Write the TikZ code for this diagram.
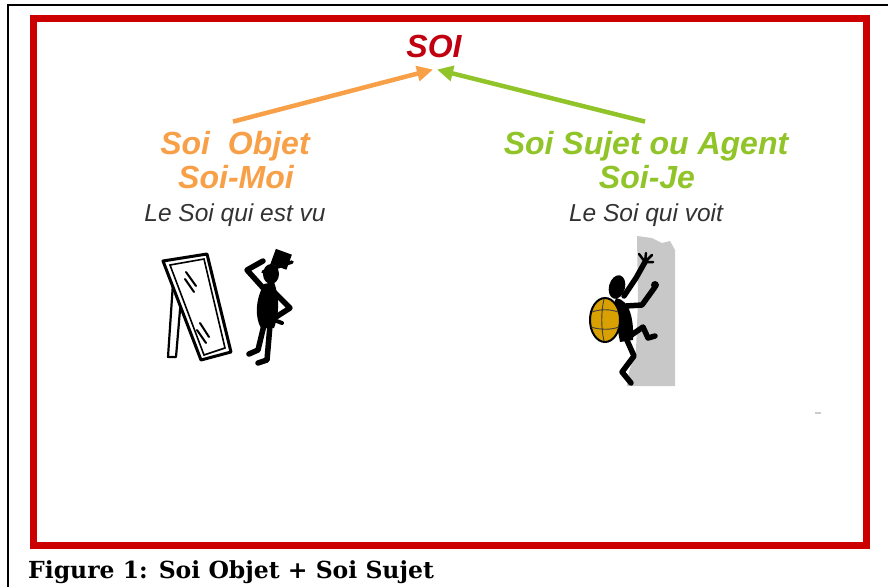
\documentclass[tikz,border=0pt]{standalone}
\usepackage{fontspec}
\setsansfont{Liberation Sans}
\newfontfamily\captionfont{DejaVu Serif}
\usepackage{tikz}
\usetikzlibrary{
    positioning,
    arrows.meta
}
\definecolor{soiRed}{RGB}{192, 0, 16}
\definecolor{frameRed}{RGB}{204, 0, 0}
\definecolor{objOrange}{RGB}{248, 160, 72}
\definecolor{sujGreen}{RGB}{144, 196, 40}
\definecolor{textGray}{RGB}{50, 50, 50}
\definecolor{wallGray}{RGB}{200, 200, 200}
\definecolor{packGold}{RGB}{216, 160, 0}

\begin{document}
\begin{tikzpicture}[x=1pt, y=-1pt, >={Triangle[length=16pt, width=15pt]},
        title/.style={font=\sffamily\bfseries\itshape\fontsize{32}{36}\selectfont, inner sep=1pt, anchor=base},
        sub/.style={font=\sffamily\itshape\fontsize{24.5}{28}\selectfont, text=textGray, inner sep=1pt, anchor=base},
        link/.style={->, line width=4.5pt},
        limb/.style={line width=5.5pt, line cap=round, line join=round}]
        \useasboundingbox (0,0) rectangle (888,587);
        % Outer frame
        \draw[line width=2pt] (888,5) -- (8,5) -- (8,587);
        \draw[line width=7pt, frameRed] (33,18) rectangle (866,545);
        \draw[line width=1.5pt, black!20] (815,413) -- (821,413);

        % Titles
        \node[title, soiRed] (soi) at (434,57) {SOI};
        \node[title, objOrange] (objet) at (235,154) {Soi\ \ Objet};
        \node[title, objOrange] (moi) at (236,188) {Soi-Moi};
        \node[sub] (vu) at (235,221) {Le Soi qui est vu};
        \node[title, sujGreen] (sujet) at (646,154) {Soi Sujet ou Agent};
        \node[title, sujGreen] (je) at (647,188) {Soi-Je};
        \node[sub] (voit) at (646,221) {Le Soi qui voit};

        % Arrows
        \coordinate[below=11pt of soi.south, xshift=-1pt] (tipL);
        \coordinate[below=11pt of soi.south, xshift=3pt] (tipR);
        \coordinate[above=8pt of objet.north, xshift=-2pt] (footL);
        \coordinate[above=8pt of sujet.north, xshift=-1pt] (footR);
        \draw[link, objOrange] (footL) -- (tipL);
        \draw[link, sujGreen] (footR) -- (tipR);

        % Mirror
        \draw[line width=2.2pt, line join=round] (173,283) -- (168,357) -- (176,357) -- (181,298);
        \filldraw[fill=white, line width=3pt, line join=round] (163,261) -- (207,254) -- (231,352) -- (201,360) -- cycle;
        \draw[line width=1.6pt] (170,265) -- (204,259) -- (225,348) -- (204,355) -- cycle;
        \draw[line width=2pt, line cap=round] (186,272) -- (196,286) (185,279) -- (194,292)
            (200,323) -- (209,337) (197,330) -- (206,343);

        % Man looking at himself
        \fill (271,274) ellipse (8 and 10);
        \fill[rotate around={-20:(280,261)}] (272,251) rectangle (289,267);
        \draw[line width=3.5pt, line cap=round] (263,272) -- (292,262);
        \fill (264,284) .. controls (255,300) and (255,318) .. (261,328)
            -- (274,328) .. controls (280,312) and (279,296) .. (274,282) -- cycle;
        \draw[limb] (265,290) -- (247,270) -- (263,261);
        \draw[limb] (273,291) -- (290,308) -- (276,317);
        \draw[line width=4pt, line cap=round] (274,320) -- (282,323);
        \draw[limb] (264,325) -- (258,350) -- (249,354);
        \draw[limb] (270,325) -- (267,360) -- (258,363);

        % Climber on the wall
        \fill[wallGray] (637,236) -- (652,238) -- (662,243) -- (670,241) -- (675,250) -- (675,386)
            -- (627,386) -- (629,372) -- (636,350) -- (638,300) -- cycle;
        \fill[rotate around={-15:(617,287)}] (617,287) ellipse (8 and 12);
        \draw[limb] (624,296) -- (636,278) -- (645,262);
        \draw[line width=2.5pt, line cap=round] (645,262) -- (639,254) (645,262) -- (646,253)
            (645,262) -- (652,255) (645,262) -- (653,262);
        \draw[limb] (626,306) -- (642,305) -- (655,287);
        \fill (655,285) circle (4);
        \fill (616,298) .. controls (630,300) and (634,320) .. (633,340)
            -- (620,342) .. controls (616,320) and (612,305) .. (616,298);
        \draw[limb] (630,336) -- (643,327) -- (648,338) -- (655,336);
        \draw[limb] (626,338) -- (634,356) -- (622,372) -- (631,383);
        \filldraw[fill=packGold, line width=2pt] (605,320) ellipse (15 and 22);
        \draw[black!75, line width=0.9pt] (592,312) .. controls (600,309) and (610,309) .. (618,312)
            (591,327) .. controls (600,330) and (611,330) .. (619,327)
            (604,299) .. controls (601,312) and (601,328) .. (604,341);

        % Caption
        \node[font=\captionfont\bfseries\fontsize{23.5}{26}\selectfont, anchor=base west, inner sep=0pt] (caption) at (28,578) {Figure 1: Soi Objet + Soi Sujet};
\end{tikzpicture}
\end{document}
